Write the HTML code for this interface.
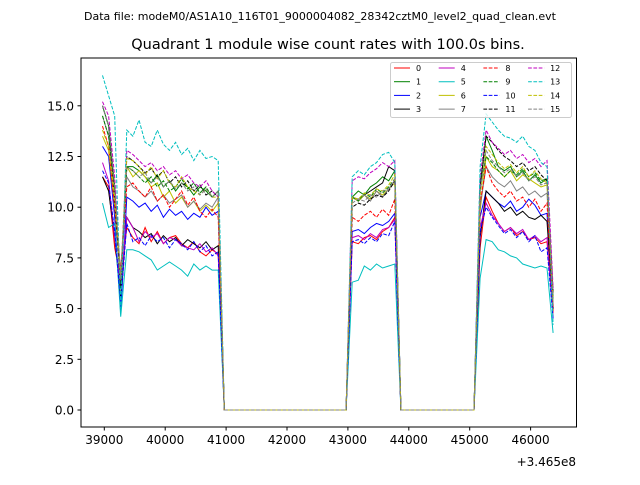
<!DOCTYPE html>
<html><head><meta charset="utf-8"><style>
body{margin:0;background:#fff}
svg text{font-family:"DejaVu Sans","Liberation Sans",sans-serif}
</style></head><body>
<svg id="c" width="640" height="480" xmlns="http://www.w3.org/2000/svg">
<text x="320" y="20" font-size="11" text-anchor="middle">Data file: modeM0/AS1A10_116T01_9000004082_28342cztM0_level2_quad_clean.evt</text>
<text x="328" y="49" font-size="14.5" text-anchor="middle">Quadrant 1 module wise count rates with 100.0s bins.</text>
<g id="plot"></g>
<rect x="81" y="58" width="495.5" height="369" fill="none" stroke="#000" stroke-width="1"/>
<text x="576" y="466" font-size="12" text-anchor="end">+3.465e8</text>
</svg>
<script>
const times=[38970,39070,39170,39270,39370,39470,39570,39670,39770,39870,39970,40070,40170,40270,40370,40470,40570,40670,40770,40870,40970,42970,43070,43170,43270,43370,43470,43570,43670,43770,43870,45070,45170,45270,45370,45470,45570,45670,45770,45870,45970,46070,46170,46270,46370];
const xTicks=[39000,40000,41000,42000,43000,44000,45000,46000];
const yTicks=[0,2.5,5,7.5,10,12.5,15];
const colors=["#ff0000","#008000","#0000ff","#000000","#bf00bf","#00bfbf","#bfbf00","#808080"];
const s0=[11.5,11,8,6.5,9,8.5,8.2,9,8.3,8.8,8.2,8.5,8.6,8.2,8,8.3,7.8,7.6,7.9,7.7,0,0,8.3,8.2,8.5,8.6,8.4,8.8,9,9.5,0,0,8,10.5,9.8,9.2,8.8,9,8.6,8.8,8.4,8.5,8.2,8.3,4.8];
const s1=[15,14,11,6,12,12,11.8,11.5,11.2,11.6,11,11.3,10.8,11.2,11,10.6,11,10.8,10.5,10.8,0,0,10.5,10.8,10.6,11,11.2,11.5,11.3,11.8,0,0,11,13.5,12.8,12,11.8,12,11.5,11.8,11.3,11.6,11.2,11.4,5.5];
const s2=[13,12.5,9.5,4.8,10.5,10.3,10,10.2,9.8,10.1,9.5,9.9,9.6,9.8,9.4,9.7,9.5,10,9.6,9.8,0,0,8.8,8.9,8.7,9,9.2,9.1,9.3,9.7,0,0,9.5,10.8,10.5,10.2,10,10.3,9.8,10,10.4,10.1,9.6,9.7,5];
const s3=[11.5,10.8,8.5,5.5,9.5,9,8.8,8.5,8.7,8.2,8.6,8.3,8.5,8.1,8.4,8.2,8,8.3,7.9,8.1,0,0,10.5,10.3,10.6,10.8,11,11.2,12,11.8,0,0,8.5,10.8,10.5,10.2,9.8,10,9.6,9.8,9.5,9.4,9.6,9.3,5];
const s4=[12.2,11.3,8.5,6,9.5,9,8.3,8.8,8.5,8.7,8.2,8.5,8.4,8.1,8,7.9,8.2,7.8,8,7.6,0,0,8.5,8.6,8.4,8.7,8.5,8.9,9,9.4,0,0,9,10.2,9.6,9.2,8.8,9,8.7,8.9,8.4,8.6,8.3,8.5,4.6];
const s5=[10.2,9,9.2,4.6,7.9,7.9,7.8,7.6,7.4,6.9,7.1,7.3,7.1,6.9,6.6,7.2,6.9,7.1,6.9,6.9,0,0,6.3,6.4,7.1,6.9,7.2,7,7.1,7.2,0,0,6.5,8.4,8.3,7.9,7.8,7.6,7.5,7.2,7.1,7,7.1,7,3.8];
const s6=[13.5,12.8,10,6.5,12,11.5,11.8,11.5,11,11.2,10.5,10.8,10.2,10.5,10,10.3,9.8,10.1,9.8,10.2,0,0,10.5,10.3,10.6,10.4,10.8,10.6,10.9,11.2,0,0,9.8,12.5,12,11.8,11.5,11.8,11.3,11.6,11.4,11.2,11,11.1,5.3];
const s7=[14.5,13.5,10.5,6.8,11.5,11,10.8,10.5,10.8,10.3,10.6,10.2,10.4,10.6,10,10.3,9.9,10.2,10,10.5,0,0,10.5,10.4,10.6,10.3,10.8,10.5,10.9,11.3,0,0,10,12,11.5,11.2,11,11.3,10.8,11,10.6,10.8,10.5,10.7,5.2];
const s8=[14,13,10,6.8,11,11.2,10.8,10.5,11,10.3,10.6,10,10.4,10.8,10.1,10.5,9.8,9.5,9.9,9.5,0,0,9.5,9.3,9.6,9.8,9.5,9.9,9.6,10.4,0,0,10.2,12,11.2,10.8,10.5,10.8,10.3,10.5,10,10.4,9.8,10.2,4.9];
const s9=[14.5,13.5,11,6.2,12,11.8,11.5,11.2,11.5,11,11.3,10.8,11,11.4,10.9,11.2,10.7,11,10.5,10.8,0,0,10.5,10.3,10.7,10.5,10.9,10.7,11,11.4,0,0,10.8,12.5,12.2,11.8,11.5,11.8,11.6,11.9,11.5,11.7,11.3,11.4,5.6];
const s10=[11.8,11.2,8.8,5.2,9.2,8.3,8.5,8.1,8.6,8.3,8.5,8,8.4,8.2,7.9,8.3,7.8,8.1,7.6,7.8,0,0,8.3,8.4,8.2,8.5,8.3,8.7,8.6,9.3,0,0,8.8,10,9.5,9.1,8.7,8.9,8.5,8.8,8.3,8.6,7.8,8,4.5];
const s11=[15,14,10.5,6,12.5,12.3,12,11.7,11.9,11.5,11.8,11.2,11.5,11,11.3,10.8,11.1,10.6,10.8,10.5,0,0,10,10.2,10.1,10.4,10.6,10.5,10.8,11.3,0,0,11,13.5,13.2,12.8,12.5,12.3,12,12.2,11.8,12,11.6,11.3,5.8];
const s12=[15.2,14.5,11.5,6.5,12.8,12.6,12.3,12,12.2,11.8,12,11.6,11.8,11.4,11.6,11.2,11,11.3,10.8,10.5,0,0,11.3,11.5,11.4,11.7,11.9,12.2,12,12.3,0,0,11.5,13.8,13.2,12.9,12.6,12.8,12.4,12.6,12.2,12.4,12,12.3,6];
const s13=[16.5,15.5,14.5,5,13.8,13.5,14.3,13.2,13,13.8,13.1,12.8,13.2,12.6,12.9,12.3,12.8,12.4,12.5,12.3,0,0,11.5,11.8,11.6,12,12.2,12.6,12.7,12.2,0,0,12,14.6,14.2,13.8,13.5,13.4,13.2,13.5,13,12.8,12.2,12,4.2];
const s14=[13.8,13,10.5,6.6,12.4,12.3,12,11.6,12,11.4,11.8,11.2,11,11.5,11,10.8,10.6,10.9,10.5,10.5,0,0,10.5,10.4,10.7,10.6,10.9,10.8,11.1,11.6,0,0,10.5,13,12.6,12.2,11.9,12.1,11.7,12,11.5,11.8,11.4,11.2,5.4];
const s15=[15,14,11,6.4,12,11.8,11.5,11.7,11.2,11.5,11,11.3,10.9,11.2,10.8,11,10.6,10.9,10.5,10.8,0,0,10.2,10.4,10.3,10.6,10.5,10.8,10.9,11.4,0,0,10.8,12.8,12.3,12,11.7,11.9,11.5,11.7,11.3,11.5,11.1,11.2,5.5];
const series=[s0,s1,s2,s3,s4,s5,s6,s7,s8,s9,s10,s11,s12,s13,s14,s15];

const NS="http://www.w3.org/2000/svg";
const X=v=>104.3+(v-39000)*0.0609;
const Y=v=>410-(v/2.5)*50.7;
const g=document.getElementById('plot');
function mk(t,a){const e=document.createElementNS(NS,t);for(const k in a)e.setAttribute(k,a[k]);return e;}
xTicks.forEach(t=>{
  const l=mk('line',{x1:X(t),x2:X(t),y1:427,y2:430.5,stroke:'#000'});
  
  
  g.appendChild(l);
  const tx=mk('text',{x:X(t),y:444,'font-size':12,'text-anchor':'middle'});
  
  
  tx.textContent=t;g.appendChild(tx);
});
yTicks.forEach(t=>{
  const l=mk('line',{x1:77.5,x2:81,y1:Y(t),y2:Y(t),stroke:'#000'});
  
  
  g.appendChild(l);
  const tx=mk('text',{x:74,y:Y(t)+4.5,'font-size':12,'text-anchor':'end'});
  
  
  tx.textContent=t.toFixed(1);g.appendChild(tx);
});
series.forEach((s,i)=>{
  const d=s.map((v,j)=>(j?'L':'M')+X(times[j]).toFixed(1)+','+Y(v).toFixed(1)).join('');
  const p=mk('path',{d:d,fill:'none',stroke:colors[i%8],'stroke-width':1});
  if(i>=8)p.setAttribute('stroke-dasharray','3.7,1.6');
  
  
  g.appendChild(p);
});
const lg=mk('g',{});


lg.appendChild(mk('rect',{x:390.5,y:62.5,width:181,height:55,rx:2,fill:'#fff','fill-opacity':0.8,stroke:'#ccc'}));
for(let i=0;i<16;i++){
  const col=Math.floor(i/4),row=i%4;
  const x0=394+col*44.7,y0=68+row*13.7;
  const ln=mk('line',{x1:x0,x2:x0+16,y1:y0,y2:y0,stroke:colors[i%8],'stroke-width':1});
  if(i>=8)ln.setAttribute('stroke-dasharray','3.7,1.6');
  
  
  lg.appendChild(ln);
  const tx=mk('text',{x:x0+22,y:y0+3,'font-size':8});
  
  
  tx.textContent=i;lg.appendChild(tx);
}
g.appendChild(lg);
</script>
</body></html>
